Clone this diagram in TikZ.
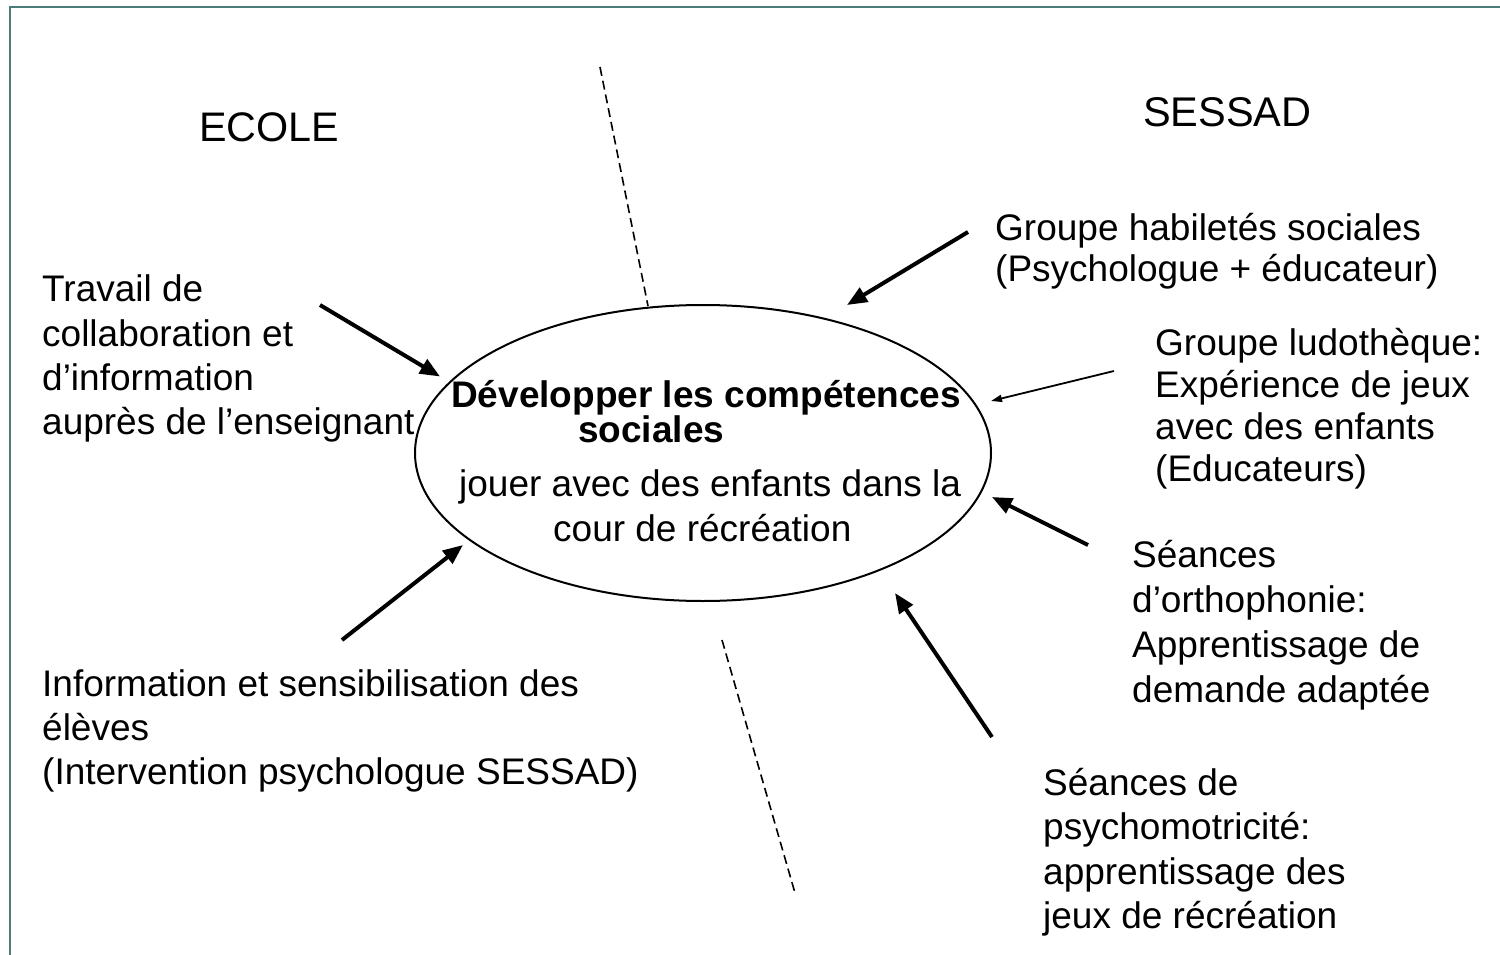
\documentclass[tikz,border=0pt]{standalone}
\usepackage{fontspec}
\setmainfont{Liberation Sans}
\usetikzlibrary{shapes.geometric,arrows.meta}
\definecolor{framecol}{RGB}{76,124,120}
\newcommand{\mylines}[1]{\begin{tabular}[t]{@{}l@{}}#1\end{tabular}}
\begin{document}
\begin{tikzpicture}[x=1pt,y=-1pt,
  txt/.style={anchor=base west, inner sep=0pt, font=\fontsize{37}{44.4}\selectfont},
  boldtxt/.style={txt, font=\bfseries\fontsize{37}{40}\selectfont},
  bigarrow/.style={line width=4pt, -{Triangle[length=20pt,width=16pt]}},
  thinarrow/.style={line width=1.8pt, -{Triangle[length=11pt,width=7pt]}},
  divider/.style={line width=1.6pt, dash pattern=on 9pt off 5pt},
  goalshape/.style={draw, ellipse, line width=2pt, minimum width=576pt, minimum height=296pt, inner sep=0pt}
]
\useasboundingbox (0,0) rectangle (1500,955);
\fill[white] (0,0) rectangle (1500,955);
% frame
\draw[framecol, line width=2.8pt] (10,970) -- (10,7) -- (1520,7);

% headings
\node[txt, font=\fontsize{41.3}{50}\selectfont] (ecole) at (199,142) {ECOLE};
\node[txt, font=\fontsize{41.5}{50}\selectfont] (sessad) at (1143,127) {SESSAD};

% dashed divider
\coordinate (d1s) at (600,67);
\coordinate (d1e) at (648,306);
\coordinate (d2s) at (722,640);
\coordinate (d2e) at (795,893);
\draw[divider] (d1s) -- (d1e);
\draw[divider] (d2s) -- (d2e);

% central ellipse
\node[goalshape] (goal) at (703,453) {};
\node[boldtxt] (g1) at (451,407) {Développer les compétences};
\node[boldtxt] (g2) at (578,442) {sociales};
\node[txt] (g3) at (459,496) {jouer avec des enfants dans la};
\node[txt] (g4) at (553,541) {cour de récréation};

% left texts
\node[txt] (travail) at (42,301.7) {\mylines{Travail de\\collaboration et\\d’information\\auprès de l’enseignant}};
\node[txt, font=\fontsize{37}{44}\selectfont] (info) at (42,696) {\mylines{Information et sensibilisation des\\élèves\\(Intervention psychologue SESSAD)}};

% right texts
\node[txt, font=\fontsize{37}{42}\selectfont] (habil) at (995,240) {\mylines{Groupe habiletés sociales\\(Psychologue + éducateur)}};
\node[txt, font=\fontsize{37}{42.3}\selectfont] (ludo) at (1155,355) {\mylines{Groupe ludothèque:\\Expérience de jeux\\avec des enfants\\(Educateurs)}};
\node[txt, font=\fontsize{37}{45}\selectfont] (ortho) at (1132,567) {\mylines{Séances\\d’orthophonie:\\Apprentissage de\\demande adaptée}};
\node[txt, font=\fontsize{37}{44.5}\selectfont] (psycho) at (1043,795) {\mylines{Séances de\\psychomotricité:\\apprentissage des\\jeux de récréation}};

% arrow end points
\coordinate (a1s) at (320,305);
\coordinate (a1e) at (440,376.5);
\coordinate (a2s) at (342,640);
\coordinate (a2e) at (463,545);
\coordinate (a3s) at (968,232);
\coordinate (a3e) at (847,305);
\coordinate (a4s) at (1114,371);
\coordinate (a4e) at (991,401);
\coordinate (a5s) at (1088,545);
\coordinate (a5e) at (992,497);
\coordinate (a6s) at (992,737);
\coordinate (a6e) at (895,593);

\draw[bigarrow] (a1s) -- (a1e);
\draw[bigarrow] (a2s) -- (a2e);
\draw[bigarrow] (a3s) -- (a3e);
\draw[thinarrow] (a4s) -- (a4e);
\draw[bigarrow] (a5s) -- (a5e);
\draw[bigarrow] (a6s) -- (a6e);
\end{tikzpicture}
\end{document}
